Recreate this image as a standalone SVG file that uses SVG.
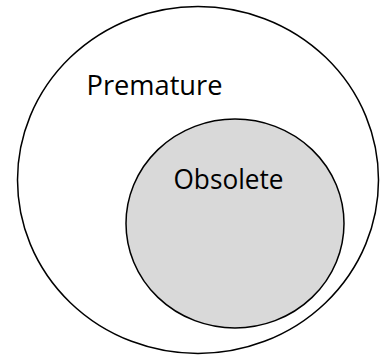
<svg xmlns="http://www.w3.org/2000/svg" width="381" height="356" viewBox="0 0 381 356">
<style>
.c{stroke:#000;stroke-width:1.5}
.t{font-family:"Open Sans","Noto Sans",sans-serif;font-size:28px;fill:#000}
</style>
<rect width="381" height="356" fill="#fff"/>
<g id="premature">
<ellipse class="c" cx="198" cy="180" rx="180.5" ry="173.5" fill="#fff"/>
<text class="t" x="86.5" y="95" textLength="136" lengthAdjust="spacingAndGlyphs">Premature</text>
</g>
<g id="obsolete">
<ellipse class="c" cx="235" cy="223.5" rx="109" ry="104.5" fill="#d9d9d9"/>
<text class="t" x="173.5" y="189" textLength="110" lengthAdjust="spacingAndGlyphs">Obsolete</text>
</g>
<g id="connectors"/>
</svg>
